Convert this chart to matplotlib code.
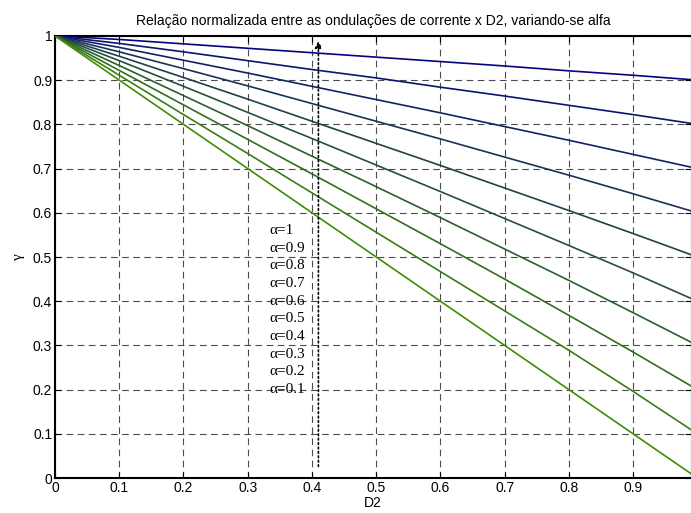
import matplotlib
matplotlib.use('Agg')
import matplotlib.pyplot as plt
import numpy as np
from matplotlib.ticker import FormatStrFormatter

# D2 sample points
d2 = [0, 0.1, 0.2, 0.3, 0.4, 0.5, 0.6, 0.7, 0.8, 0.9, 1.0]

# gamma curves (top = alfa 1, bottom = alfa 0.1)
g_a10 = [1, 0.992, 0.982, 0.972, 0.962, 0.952, 0.942, 0.932, 0.921, 0.911, 0.900]
g_a09 = [1, 0.983, 0.964, 0.944, 0.924, 0.905, 0.884, 0.864, 0.843, 0.822, 0.800]
g_a08 = [1, 0.974, 0.945, 0.916, 0.886, 0.856, 0.826, 0.795, 0.764, 0.732, 0.700]
g_a07 = [1, 0.964, 0.926, 0.887, 0.847, 0.807, 0.767, 0.726, 0.685, 0.643, 0.600]
g_a06 = [1, 0.954, 0.906, 0.857, 0.807, 0.757, 0.707, 0.656, 0.605, 0.553, 0.500]
g_a05 = [1, 0.944, 0.886, 0.827, 0.768, 0.708, 0.648, 0.587, 0.526, 0.464, 0.400]
g_a04 = [1, 0.933, 0.865, 0.797, 0.728, 0.659, 0.589, 0.518, 0.447, 0.374, 0.300]
g_a03 = [1, 0.922, 0.844, 0.766, 0.688, 0.609, 0.530, 0.450, 0.368, 0.285, 0.200]
g_a02 = [1, 0.911, 0.822, 0.734, 0.645, 0.556, 0.467, 0.378, 0.289, 0.196, 0.100]
g_a01 = [1, 0.900, 0.800, 0.700, 0.600, 0.500, 0.400, 0.300, 0.200, 0.100, 0.000]

curves = [g_a10, g_a09, g_a08, g_a07, g_a06, g_a05, g_a04, g_a03, g_a02, g_a01]
alfa_labels = ['1', '0.9', '0.8', '0.7', '0.6', '0.5', '0.4', '0.3', '0.2', '0.1']

fig = plt.figure(figsize=(6.91, 5.13), dpi=100)
ax = fig.add_axes([0.0796, 0.068, 0.9204, 0.862])

c_top = np.array([0.02, 0.02, 0.50])
c_bot = np.array([0.25, 0.55, 0.02])
for i, g in enumerate(curves):
	t = i / (len(curves) - 1)
	ax.plot(d2, g, color=c_top + (c_bot - c_top) * t, lw=1.2, zorder=3)

ax.set_xlim(0, 0.99)
ax.set_ylim(0, 1)
ax.set_xticks(np.arange(0, 0.95, 0.1))
ax.set_yticks(np.arange(0, 1.05, 0.1))
ax.xaxis.set_major_formatter(FormatStrFormatter('%g'))
ax.yaxis.set_major_formatter(FormatStrFormatter('%g'))
ax.tick_params(direction='in', top=True, right=True, labelsize=10, length=4, pad=2)
for lab in ax.get_xticklabels() + ax.get_yticklabels():
	lab.set_family('Liberation Sans')

ax.grid(True, color='black', linestyle=(0, (6, 4)), lw=0.8, alpha=0.7)
for s in ['left', 'bottom', 'top']:
	ax.spines[s].set_linewidth(1.5)

# alfa labels
for i, a in enumerate(alfa_labels):
	ax.text(0.333, 0.56 - 0.04 * i, '\u03b1=' + a, family='Liberation Serif',
		fontsize=11, va='center', ha='left', zorder=4)

# dotted arrow
ax.annotate('', xy=(0.41, 0.995), xytext=(0.41, 0.02),
	arrowprops=dict(arrowstyle='-|>', linestyle=':', color='black', lw=1.2,
		mutation_scale=10), zorder=5)

ax.set_title('Relação normalizada entre as ondulações de corrente x D2, variando-se alfa',
	family='Liberation Sans', fontsize=10, pad=8)
ax.set_xlabel('D2', family='Liberation Sans', fontsize=10, labelpad=1)
ax.set_ylabel('\u03b3', family='Liberation Serif', fontsize=11, labelpad=6)

fig.savefig('out.png', dpi=100)
